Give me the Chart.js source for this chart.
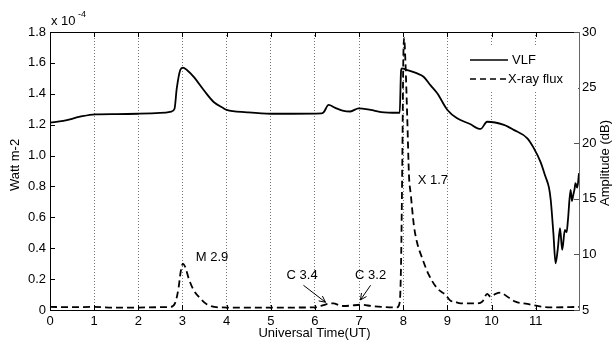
<!DOCTYPE html>
<html>
<head>
<meta charset="utf-8">
<script src="https://cdn.jsdelivr.net/npm/chart.js@4"></script>
<style>
  body { margin: 0; background: #fff; }
  #wrap { width: 613px; height: 343px; }
</style>
</head>
<body>
<div id="wrap"><canvas id="chart"></canvas></div>
<script>
var hourTicks = [0, 1, 2, 3, 4, 5, 6, 7, 8, 9, 10, 11];

// hours (UT) and VLF amplitude (dB), right axis
var vlfTime = [0, 0.3, 0.68, 1.02, 1.5, 2.0, 2.49, 2.75, 2.82, 2.87, 2.95, 3.01, 3.1, 3.25, 3.48, 3.7, 3.93, 4.0, 4.46,
    5.0, 5.5, 6.15, 6.2, 6.31, 6.45, 6.65, 6.8, 6.99, 7.26, 7.5, 7.87, 7.92, 7.95, 7.97, 8.09, 8.3, 8.46, 8.62, 8.77,
    9.0, 9.22, 9.5, 9.75, 9.9, 10.28, 10.5, 10.81, 10.95, 11.11, 11.22, 11.3, 11.34, 11.4, 11.45, 11.5, 11.55, 11.6,
    11.66, 11.7, 11.73, 11.79, 11.82, 11.85, 11.88, 11.9, 11.94, 11.98];
var vlfDb = [21.84, 22.0, 22.38, 22.6, 22.62, 22.65, 22.72, 22.85, 23.1, 24.9, 26.58, 26.8, 26.58, 25.98, 24.78, 23.73, 23.14, 22.99, 22.78,
    22.65, 22.65, 22.68, 22.8, 23.44, 23.2, 22.9, 22.85, 23.14, 22.99, 22.8, 22.74, 22.74, 26.5, 26.73, 26.58, 26.3, 25.98, 25.2, 24.49,
    22.99, 22.24, 21.75, 21.28, 21.93, 21.64, 21.2, 20.44, 19.6, 18.3, 17.0, 16.0, 14.89, 11.9, 9.2, 10.5, 12.35, 10.4,
    12.2, 12.0, 13.1, 15.8, 14.8, 15.34, 15.9, 16.4, 16.0, 17.3];

// hours (UT) and X-ray flux (x 10^-4 W m-2), left axis
var xrayTime = [0, 0.5, 1, 1.5, 2, 2.5, 2.72, 2.83, 2.91, 2.96, 3.01, 3.06, 3.14, 3.25, 3.4, 3.55, 3.85, 4.5, 5, 5.5,
    6.0, 6.2, 6.3, 6.42, 6.55, 6.65, 6.8, 7.03, 7.3, 7.55, 7.86, 7.92, 7.95, 7.98, 8.0, 8.02, 8.05, 8.09, 8.13, 8.17,
    8.24, 8.31, 8.43, 8.58, 8.77, 8.96, 9.07, 9.15, 9.3, 9.68, 9.79, 9.9, 9.98, 10.09, 10.2, 10.36, 10.54, 10.81,
    11.04, 11.34, 11.98];
var xrayFlux = [0.02, 0.018, 0.02, 0.015, 0.016, 0.018, 0.02, 0.043, 0.14, 0.248, 0.30, 0.28, 0.205, 0.13, 0.076, 0.037, 0.017, 0.015, 0.015, 0.016,
    0.017, 0.032, 0.04, 0.043, 0.03, 0.026, 0.028, 0.034, 0.025, 0.02, 0.017, 0.05, 0.3, 1.0, 1.6, 1.76, 1.6, 1.25, 0.87, 0.75,
    0.55, 0.44, 0.335, 0.227, 0.14, 0.097, 0.06, 0.055, 0.043, 0.043, 0.054, 0.104, 0.086, 0.104, 0.112, 0.086, 0.054, 0.039,
    0.026, 0.017, 0.02];

var flares = [
    { text: 'M 2.9', x: 3.67, y: 0.343 },
    { text: 'C 3.4', x: 5.71, y: 0.227, from: [5.74, 0.16], to: [6.24, 0.05] },
    { text: 'C 3.2', x: 7.26, y: 0.227, from: [7.26, 0.16], to: [7.03, 0.065] },
    { text: 'X 1.7', x: 8.67, y: 0.84 }
];

var FONT = '"Liberation Sans", Arial, sans-serif';

function toXY(xs, ys) {
    return xs.map(function (x, i) { return { x: x, y: ys[i] }; });
}

function arrow(ctx, x1, y1, x2, y2) {
    var a = Math.atan2(y2 - y1, x2 - x1);
    ctx.beginPath();
    ctx.moveTo(x1, y1);
    ctx.lineTo(x2, y2);
    ctx.moveTo(x2 - 7 * Math.cos(a - 0.45), y2 - 7 * Math.sin(a - 0.45));
    ctx.lineTo(x2, y2);
    ctx.lineTo(x2 - 7 * Math.cos(a + 0.45), y2 - 7 * Math.sin(a + 0.45));
    ctx.stroke();
}

var extras = {
    id: 'extras',
    afterDraw: function (chart) {
        var ctx = chart.ctx;
        var a = chart.chartArea;
        var sx = chart.scales.x, sy = chart.scales.y, sy2 = chart.scales.y2;
        ctx.save();
        ctx.strokeStyle = '#000';
        ctx.lineWidth = 1;
        ctx.setLineDash([]);
        // top frame
        ctx.beginPath();
        ctx.moveTo(a.left, a.top + 0.5);
        ctx.lineTo(a.right, a.top + 0.5);
        ctx.stroke();
        // inward ticks
        ctx.beginPath();
        sx.ticks.forEach(function (t) {
            var p = Math.round(sx.getPixelForValue(t.value)) + 0.5;
            ctx.moveTo(p, a.bottom); ctx.lineTo(p, a.bottom - 5);
            ctx.moveTo(p, a.top); ctx.lineTo(p, a.top + 5);
        });
        sy.ticks.forEach(function (t) {
            var p = Math.round(sy.getPixelForValue(t.value)) + 0.5;
            ctx.moveTo(a.left, p); ctx.lineTo(a.left + 5, p);
        });
        ctx.stroke();
        ctx.strokeStyle = '#555';
        ctx.beginPath();
        sy2.ticks.forEach(function (t) {
            var p = Math.round(sy2.getPixelForValue(t.value)) + 0.5;
            ctx.moveTo(a.right, p); ctx.lineTo(a.right - 5, p);
        });
        ctx.stroke();

        ctx.fillStyle = '#000';
        // exponent
        ctx.font = '13px ' + FONT;
        ctx.textAlign = 'left';
        ctx.textBaseline = 'alphabetic';
        ctx.fillText('x 10', a.left + 1, 25);
        ctx.font = '9px ' + FONT;
        ctx.fillText('-4', a.left + 28, 17);

        // axis titles
        ctx.font = '13px ' + FONT;
        ctx.textAlign = 'center';
        ctx.textBaseline = 'middle';
        ctx.fillText('Universal Time(UT)', (a.left + a.right) / 2, 333);
        ctx.save();
        ctx.translate(15, 165);
        ctx.rotate(-Math.PI / 2);
        ctx.fillText('Watt m-2', 0, 0);
        ctx.restore();
        ctx.save();
        ctx.translate(605, 163);
        ctx.rotate(-Math.PI / 2);
        ctx.fillText('Amplitude (dB)', 0, 0);
        ctx.restore();

        // flare labels
        ctx.strokeStyle = '#000';
        flares.forEach(function (f) {
            ctx.fillText(f.text, sx.getPixelForValue(f.x), sy.getPixelForValue(f.y));
            if (f.from) {
                arrow(ctx, sx.getPixelForValue(f.from[0]), sy.getPixelForValue(f.from[1]),
                    sx.getPixelForValue(f.to[0]), sy.getPixelForValue(f.to[1]));
            }
        });

        // legend
        var lx = a.right - 124, ly = 46;
        ctx.fillStyle = '#fff';
        ctx.fillRect(lx, ly, 123, 46);
        ctx.fillStyle = '#000';
        ctx.lineWidth = 1.5;
        ctx.beginPath();
        ctx.moveTo(lx + 15, ly + 14); ctx.lineTo(lx + 53, ly + 14);
        ctx.stroke();
        ctx.setLineDash([6, 4]);
        ctx.beginPath();
        ctx.moveTo(lx + 15, ly + 33); ctx.lineTo(lx + 51, ly + 33);
        ctx.stroke();
        ctx.setLineDash([]);
        ctx.textAlign = 'left';
        ctx.fillText('VLF', lx + 57, ly + 14);
        ctx.fillText('X-ray flux', lx + 53, ly + 33);
        ctx.restore();
    }
};

var ctx = document.getElementById('chart');
new Chart(ctx, {
    type: 'line',
    data: {
        datasets: [{
            label: 'VLF',
            data: toXY(vlfTime, vlfDb),
            yAxisID: 'y2',
            borderColor: '#000',
            borderWidth: 1.8,
            pointRadius: 0,
            cubicInterpolationMode: 'monotone'
        }, {
            label: 'X-ray flux',
            data: toXY(xrayTime, xrayFlux),
            yAxisID: 'y',
            borderColor: '#000',
            borderWidth: 1.8,
            borderDash: [7, 4],
            pointRadius: 0,
            cubicInterpolationMode: 'monotone'
        }]
    },
    options: {
        responsive: true,
        maintainAspectRatio: false,
        animation: false,
        events: [],
        layout: { padding: { top: 32, left: 0, right: 0, bottom: 0 } },
        plugins: { legend: { display: false }, tooltip: { enabled: false } },
        scales: {
            x: {
                type: 'linear',
                min: 0,
                max: 11.98,
                afterBuildTicks: function (s) {
                    s.ticks = hourTicks.map(function (v) { return { value: v }; });
                },
                afterFit: function (s) { s.height = 33; },
                ticks: { color: '#000', font: { family: FONT, size: 13 }, padding: 4, maxRotation: 0, autoSkip: false },
                grid: { color: '#777', drawTicks: false, lineWidth: 1 },
                border: { color: '#000', width: 1, dash: [1, 2] }
            },
            y: {
                position: 'left',
                min: 0,
                max: 1.8,
                afterFit: function (s) { s.width = 50; },
                ticks: { stepSize: 0.2, color: '#000', font: { family: FONT, size: 13 }, padding: 4 },
                grid: { display: false, drawTicks: false },
                border: { color: '#000', width: 1 }
            },
            y2: {
                position: 'right',
                min: 5,
                max: 30,
                afterFit: function (s) { s.width = 34; },
                ticks: { stepSize: 5, color: '#000', font: { family: FONT, size: 13 }, padding: 3 },
                grid: { display: false, drawTicks: false },
                border: { color: '#666', width: 1 }
            }
        }
    },
    plugins: [extras]
});
</script>
</body>
</html>
